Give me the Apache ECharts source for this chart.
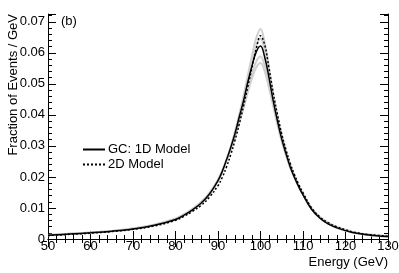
<!DOCTYPE html>
<html><head><meta charset="utf-8">
<script src="https://cdn.jsdelivr.net/npm/echarts@6/dist/echarts.min.js"></script>
<style>html,body{margin:0;padding:0;background:#fff}#c{width:399px;height:273px}</style>
</head><body><div id="c"></div>
<script>
const energies = [50,55,60,65,70,75,80,82,84,86,88,90,91,92,93,94,95,96,97,98,99,100,101,102,103,104,105,106,107,108,109,110,112,114,116,118,120,122,125,130];
const gc1D   = [0.0012,0.0016,0.0020,0.0025,0.0032,0.0044,0.0063,0.0077,0.0094,0.0115,0.0145,0.0188,0.0218,0.0255,0.0295,0.0340,0.0393,0.0445,0.0505,0.0558,0.0603,0.0622,0.0585,0.0520,0.0445,0.0380,0.0322,0.0275,0.0232,0.0198,0.0168,0.0142,0.0096,0.0067,0.0048,0.0036,0.0027,0.0020,0.0014,0.0008];
const model2D= [0.0011,0.0015,0.0019,0.0024,0.0031,0.0042,0.0060,0.0073,0.0089,0.0108,0.0135,0.0172,0.0198,0.0232,0.0272,0.0318,0.0370,0.0428,0.0490,0.0553,0.0613,0.0655,0.0625,0.0550,0.0470,0.0400,0.0338,0.0287,0.0243,0.0207,0.0176,0.0149,0.0101,0.0071,0.0052,0.0039,0.0030,0.0022,0.0015,0.0009];
const grayA  = [0.0012,0.0016,0.0020,0.0025,0.0032,0.0044,0.0062,0.0076,0.0093,0.0114,0.0144,0.0187,0.0218,0.0256,0.0298,0.0346,0.0402,0.0460,0.0526,0.0590,0.0648,0.0677,0.0632,0.0552,0.0468,0.0396,0.0334,0.0284,0.0239,0.0203,0.0172,0.0145,0.0098,0.0068,0.0049,0.0036,0.0027,0.0020,0.0014,0.0008];
const grayB  = [0.0012,0.0016,0.0020,0.0025,0.0032,0.0044,0.0062,0.0076,0.0093,0.0114,0.0144,0.0186,0.0216,0.0253,0.0294,0.0340,0.0395,0.0450,0.0512,0.0572,0.0624,0.0645,0.0606,0.0536,0.0456,0.0388,0.0328,0.0280,0.0236,0.0201,0.0170,0.0144,0.0097,0.0068,0.0049,0.0036,0.0027,0.0020,0.0014,0.0008];
const grayC  = [0.0013,0.0017,0.0021,0.0026,0.0034,0.0046,0.0065,0.0079,0.0096,0.0118,0.0148,0.0190,0.0219,0.0254,0.0292,0.0334,0.0382,0.0432,0.0485,0.0534,0.0572,0.0588,0.0558,0.0500,0.0434,0.0373,0.0318,0.0272,0.0231,0.0198,0.0169,0.0144,0.0099,0.0070,0.0051,0.0038,0.0029,0.0021,0.0015,0.0009];
const grayD  = [0.0013,0.0017,0.0021,0.0026,0.0034,0.0046,0.0066,0.0080,0.0097,0.0119,0.0149,0.0191,0.0219,0.0253,0.0290,0.0330,0.0375,0.0422,0.0472,0.0518,0.0553,0.0567,0.0540,0.0487,0.0426,0.0368,0.0315,0.0270,0.0230,0.0197,0.0169,0.0144,0.0100,0.0071,0.0052,0.0039,0.0029,0.0021,0.0015,0.0009];
const yTicks = [0,0.01,0.02,0.03,0.04,0.05,0.06,0.07];

const pts = a => energies.map((e,i)=>[e,a[i]]);
const font = 'Liberation Sans, Arial, sans-serif';
const grayNames = ['gA','gB','gC','gD'];
const grays = [grayA,grayB,grayC,grayD].map((g,i)=>({
  name: grayNames[i], type:'line', data: pts(g), smooth:0.4, symbol:'none', color:'#d0d0d0',
  lineStyle:{color:'#d0d0d0', width:2}, z:1, silent:true
}));
const axisCommon = {
  axisLine:{show:true, lineStyle:{color:'#000', width:1}},
  axisTick:{show:true, inside:true, length:8, lineStyle:{color:'#000'}},
  minorTick:{show:true, splitNumber:5, length:4, lineStyle:{color:'#000'}},
  splitLine:{show:false}
};
const chart = echarts.init(document.getElementById('c'), null, {renderer:'canvas'});
chart.setOption({
  animation:false,
  textStyle:{fontFamily:font},
  grid:{left:48, right:11, top:14, bottom:34, outerBoundsMode:'none', containLabel:false},
  legend:{
    data:['GC: 1D Model','2D Model'], orient:'vertical', left:77, top:138,
    itemWidth:22, itemHeight:14, itemGap:2,
    itemStyle:{color:'rgba(0,0,0,0)', borderColor:'rgba(0,0,0,0)', borderWidth:0},
    textStyle:{fontFamily:font, fontSize:13, color:'#000', padding:[0,0,0,-2]}
  },
  graphic:[
    {type:'text', left:61, top:15, style:{text:'(b)', font:'13px '+font, fill:'#000'}},
    {type:'text', x:13, y:14, rotation:Math.PI/2,
     style:{text:'Fraction of Events / GeV', font:'13px '+font, fill:'#000', textAlign:'right', textVerticalAlign:'middle'}}
  ],
  xAxis:[
    Object.assign({type:'value', min:50, max:130, interval:10,
      axisLabel:{color:'#000', fontSize:13, fontFamily:font, margin:1},
      name:'Energy (GeV)', nameLocation:'end', nameGap:0,
      nameTextStyle:{color:'#000', fontSize:13, fontFamily:font, align:'right', verticalAlign:'top', padding:[17,0,0,0]}
    }, axisCommon),
    Object.assign({type:'value', min:50, max:130, interval:10, position:'top', axisLabel:{show:false}}, axisCommon)
  ],
  yAxis:[
    Object.assign({type:'value', min:0, max:0.0725, interval:0.01,
      axisLabel:{color:'#000', fontSize:13, fontFamily:font, margin:3, showMaxLabel:false,
        formatter: v => { const t = yTicks.find(x=>Math.abs(x-v)<1e-9); return t===undefined?'':(t===0?'0':String(t)); }}
    }, axisCommon),
    Object.assign({type:'value', min:0, max:0.0725, interval:0.01, position:'right', axisLabel:{show:false}}, axisCommon)
  ],
  series: grays.concat([
    {name:'2D Model', type:'line', data:pts(model2D), smooth:0.4, symbol:'none', showSymbol:false, z:3, color:'#000',
     lineStyle:{color:'#000', width:1.5, type:[2,2]}},
    {name:'GC: 1D Model', type:'line', data:pts(gc1D), smooth:0.4, symbol:'none', showSymbol:false, z:4, color:'#000',
     lineStyle:{color:'#000', width:1.5}}
  ])
});
</script></body></html>
